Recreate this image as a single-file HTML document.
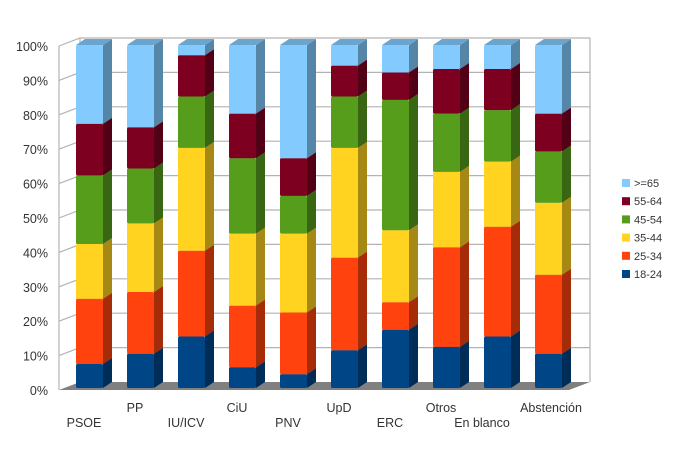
<!DOCTYPE html>
<html><head><meta charset="utf-8"><style>
body{margin:0;background:#fff;}
svg{display:block;font-family:"Liberation Sans",sans-serif;}
</style></head><body>
<svg id="chart" width="673" height="452" viewBox="0 0 673 452">
<g id="grid"></g>
<g id="bars"></g>
<g id="labels"></g>
<g id="legend"></g>
</svg>
<script>
const categories=["PSOE","PP","IU/ICV","CiU","PNV","UpD","ERC","Otros","En blanco","Abstención"];
const seriesNames=["18-24","25-34","35-44","45-54","55-64",">=65"];
const s1824=[7,10,15,6,4,11,17,12,15,10];
const s2534=[19,18,25,18,18,27,8,29,32,23];
const s3544=[16,20,30,21,23,32,21,22,19,21];
const s4554=[20,16,15,22,11,15,38,17,15,15];
const s5564=[15,12,12,13,11,9,8,13,12,11];
const s65=[23,24,3,20,33,6,8,7,7,20];
const ticks=["0%","10%","20%","30%","40%","50%","60%","70%","80%","90%","100%"];
const series=[s1824,s2534,s3544,s4554,s5564,s65];
const fronts=["#004586","#ff420e","#ffd320","#579d1c","#7e0021","#83caff"];
const sides=["#002d58","#a62b09","#a68915","#386612","#520015","#5586a8"];
const tops=["#00396e","#d0360b","#d1ad1a","#478017","#670019","#6aa5d0"];
const NS="http://www.w3.org/2000/svg";
function el(t,a,p){const e=document.createElementNS(NS,t);for(const k in a)e.setAttribute(k,a[k]);p.appendChild(e);return e;}
const yAxis=v=>390-v*3.44;
const byAxis=v=>388-v*3.43;
const xAxis=i=>76+i*51;
const G=document.getElementById('grid'),B=document.getElementById('bars'),L=document.getElementById('labels'),LG=document.getElementById('legend');
let floor=el('polygon',{points:"59,390 569,390 590,382 80,382",fill:"#808080"},G);


ticks.forEach((t,k)=>{
  const y=yAxis(k*10);
  if(k>0){
  let g=el('polyline',{points:`59,${y} 80,${y-8} 590,${y-8}`,fill:"none",stroke:"#b3b3b3","stroke-width":1.2},G);
  
  }
  let tx=el('text',{x:48,y:y+5,"text-anchor":"end","font-size":12.5,fill:"#333"},L);
  tx.textContent=t;
  
  
});
el('line',{x1:80,y1:382,x2:80,y2:38,stroke:"#b3b3b3","stroke-width":1.2},G);
el('line',{x1:590,y1:382,x2:590,y2:38,stroke:"#b3b3b3","stroke-width":1.2},G);
el('line',{x1:59,y1:390,x2:59,y2:46,stroke:"#b3b3b3","stroke-width":1.2},G);
const dx=9,dy=-6,w=27;
categories.forEach((c,i)=>{
  let cum=0;const x=xAxis(i);
  series.forEach((s,j)=>{
    const v=s[i];const yb=byAxis(cum),yt=byAxis(cum+v);cum+=v;
    let side=el('polygon',{points:`${x+w},${yt} ${x+w+dx},${yt+dy} ${x+w+dx},${yb+dy} ${x+w},${yb}`,fill:sides[j]},B);
    
    
    let top=el('polygon',{points:`${x},${yt} ${x+dx},${yt+dy} ${x+w+dx},${yt+dy} ${x+w},${yt}`,fill:tops[j]},B);
    
    
    let r=el('rect',{x:x,y:yt,width:w,height:Math.max(0,yb-yt),fill:fronts[j],rx:1.5},B);
    
    
  });
  let t=el('text',{x:x+8+(i===8?-10:0)+(i===9?8:0),y:i%2===0?427:412,"text-anchor":"middle","font-size":12.5,fill:"#333"},L);
  t.textContent=c;
  
  
});
for(let j=5;j>=0;j--){
  const y=183+(5-j)*18.2;
  let sq=el('rect',{x:622,y:y-4,width:8,height:8,fill:fronts[j]},LG);
  
  
  let t=el('text',{x:634,y:y+4,"font-size":11,fill:"#333"},LG);
  t.textContent=seriesNames[j];
  
  
}
</script>
</body></html>
